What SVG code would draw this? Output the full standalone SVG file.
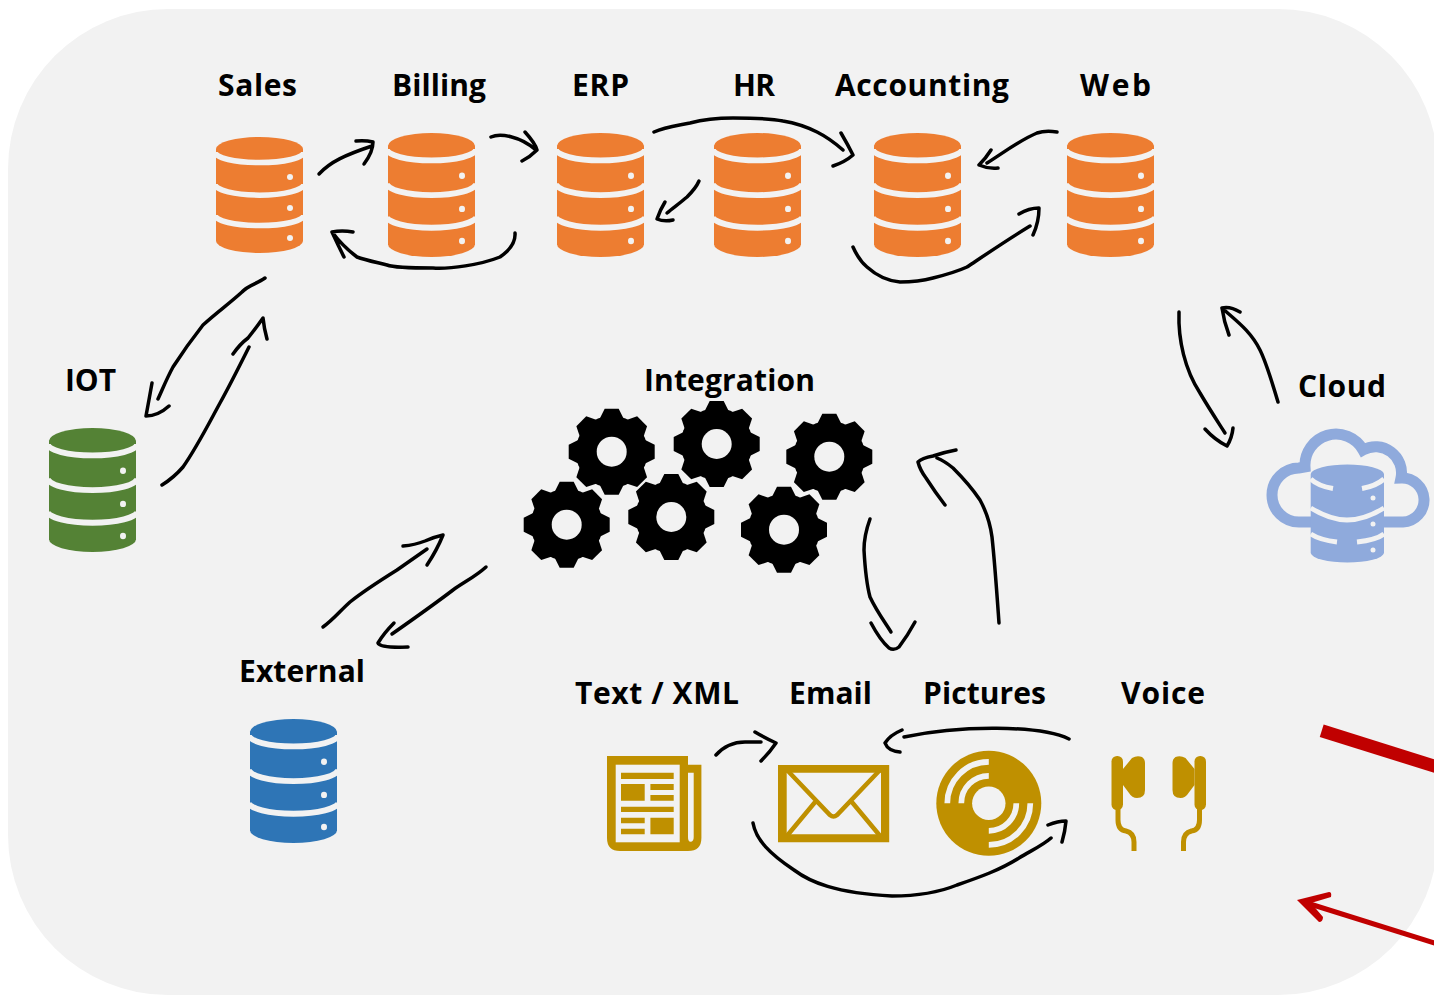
<svg xmlns="http://www.w3.org/2000/svg" width="1434" height="995" viewBox="0 0 1434 995">
<style>
.lb{font-family:"Open Sans","Noto Sans","Liberation Sans",sans-serif;font-weight:700;font-size:30px;fill:#000}
.ink{fill:none;stroke:#000;stroke-width:3.500;stroke-linecap:round;stroke-linejoin:round}
.bnd{fill:none;stroke:#f2f2f2;stroke-width:5.500}
.dot{fill:#f2f2f2}
.o{fill:#ED7D31}.g{fill:#548235}.b{fill:#2E75B6}
.gold{fill:#BF9000}.hole{fill:#f2f2f2}
.gl{fill:none;stroke:#BF9000;stroke-width:5}
</style>
<defs>
<g id="db">
<path d="M0,12A43.5,12 0 0 1 87,12V104A43.5,12 0 0 1 0,104Z"/>
<path class="bnd" d="M-1,15A44,10.500 0 0 0 88,15M-1,47A44,11 0 0 0 88,47M-1,78A44,10.500 0 0 0 88,78"/>
<circle class="dot" cx="74" cy="40" r="3"/><circle class="dot" cx="74" cy="71" r="3"/><circle class="dot" cx="74" cy="101" r="3"/>
</g>
<polygon id="tooth" points="-7,-43 7,-43 12,-33 -12,-33"/>
<g id="gear">
<circle r="36"/>
<use href="#tooth"/><use href="#tooth" transform="rotate(45)"/><use href="#tooth" transform="rotate(90)"/><use href="#tooth" transform="rotate(135)"/><use href="#tooth" transform="rotate(180)"/><use href="#tooth" transform="rotate(225)"/><use href="#tooth" transform="rotate(270)"/><use href="#tooth" transform="rotate(315)"/>
<circle class="hole" r="15"/>
</g>
<g id="bud">
<rect class="gold" x="1111.500" y="756" width="11.500" height="54" rx="5.500"/>
<path class="gold" d="M1123,769L1132,758Q1137,755 1142,757Q1145,759 1145,763V790Q1145,798 1137,798Q1132,798 1129,793L1123,785Z"/>
<path class="gl" d="M1118,808V820Q1118,830 1126,831Q1134,833 1134,842V851"/>
</g>
</defs>

<rect id="background" x="8" y="9" width="1430" height="986" rx="160" ry="160" fill="#f2f2f2"/>

<g id="sales" class="o"><use href="#db" transform="translate(216,137)"/><text class="lb" x="218" y="96" textLength="79">Sales</text></g>
<g id="billing" class="o"><use href="#db" transform="translate(388,133) scale(1,1.069)"/><text class="lb" x="392" y="96" textLength="94">Billing</text></g>
<g id="erp" class="o"><use href="#db" transform="translate(557,133) scale(1,1.069)"/><text class="lb" x="572" y="96" textLength="57">ERP</text></g>
<g id="hr" class="o"><use href="#db" transform="translate(714,133) scale(1,1.069)"/><text class="lb" x="733" y="96" textLength="42">HR</text></g>
<g id="accounting" class="o"><use href="#db" transform="translate(874,133) scale(1,1.069)"/><text class="lb" x="835" y="96" textLength="174">Accounting</text></g>
<g id="web" class="o"><use href="#db" transform="translate(1067,133) scale(1,1.069)"/><text class="lb" x="1080" y="96" textLength="71">Web</text></g>
<g id="iot" class="g"><use href="#db" transform="translate(49,428) scale(1,1.069)"/><text class="lb" x="65" y="391" textLength="51">IOT</text></g>
<g id="external" class="b"><use href="#db" transform="translate(250,719) scale(1,1.069)"/><text class="lb" x="239" y="682" textLength="126">External</text></g>

<g id="integration">
<text class="lb" x="644" y="391" textLength="171">Integration</text>
<use href="#gear" x="611.700" y="451.700"/><use href="#gear" x="716.700" y="444"/><use href="#gear" x="829.300" y="456.700"/>
<use href="#gear" x="566.700" y="524.700"/><use href="#gear" x="671.300" y="517"/><use href="#gear" x="784" y="529.700"/>
</g>

<g id="cloud">
<text class="lb" x="1298" y="397" textLength="88">Cloud</text>
<path fill="none" stroke="#8FAADC" stroke-width="11" d="M1312,522H1299A27,27 0 0 1 1299,468L1305,467A31,31 0 0 1 1363,450A26,26 0 0 1 1401,478A22,22 0 0 1 1403,522H1384"/>
<path fill="#8FAADC" d="M1302,517L1312,517V527H1310ZM1395,517L1384,517V527H1386Z"/>
<path fill="#8FAADC" d="M1310.700,474A36.700,10 0 0 1 1384,474V553A36.700,10 0 0 1 1310.700,553Z"/>
<path fill="none" stroke="#f2f2f2" stroke-width="5" d="M1310.700,479Q1318,486 1333,488.500M1362,488.500Q1376,486 1384,479M1310.700,508Q1330,520 1347,520Q1365,520 1384,508M1310.700,534Q1320,540 1337,542M1357,542Q1376,540 1384,534"/>
<circle class="dot" cx="1373" cy="498" r="2.500"/><circle class="dot" cx="1373" cy="524" r="2.500"/><circle class="dot" cx="1373" cy="550" r="2.500"/>
</g>

<g id="text-xml">
<text class="lb" x="575" y="704" textLength="164">Text / XML</text>
<path class="gold" d="M607,756H688V764.700H701.400V838Q701.400,851 688,851H620Q607,851 607,838Z"/>
<rect class="hole" x="615.700" y="764.700" width="64" height="77.600"/>
<path class="hole" d="M688,772.700H693.700V837Q693.700,841.700 690.500,841.700Q688,841.700 688,837Z"/>
<path class="gold" d="M621,772.700H673.700V779H621ZM621,784H644.700V800.700H621ZM650.400,784H673.700V790H650.400ZM650.400,795H673.700V800.700H650.400ZM621,806.700H673.700V812H621ZM621,817.700H644.700V823.300H621ZM621,828.700H644.700V834.300H621ZM650.400,817.700H673.700V834.300H650.400Z"/>
</g>

<g id="email">
<text class="lb" x="789" y="704" textLength="83">Email</text>
<path class="gold" fill-rule="evenodd" d="M778,765H889.200V842.300H778ZM786.700,772.700V834.300H881V772.700Z"/>
<path fill="none" stroke="#BF9000" stroke-width="4.500" d="M787,770L830,815Q833.500,818 837,815L880,770M786,837L816,801M881,837L851,801"/>
</g>

<g id="pictures">
<text class="lb" x="923" y="704" textLength="123">Pictures</text>
<circle class="gold" cx="988.800" cy="803.300" r="52.500"/>
<circle class="hole" cx="988.800" cy="803.300" r="16.700"/>
<path fill="none" stroke="#f2f2f2" stroke-width="5.700" d="M947.300,803.300A41.500,41.500 0 0 1 988.800,761.800M961.300,803.300A27.500,27.500 0 0 1 988.800,775.800M1030.300,803.300A41.500,41.500 0 0 1 988.800,844.800M1016.300,803.300A27.500,27.500 0 0 1 988.800,830.800"/>
</g>

<g id="voice">
<text class="lb" x="1121" y="704" textLength="84">Voice</text>
<use href="#bud"/>
<use href="#bud" transform="matrix(-1,0,0,1,2317.500,0)"/>
</g>

<g id="connectors" class="ink">
<path d="M319,174C330,162 345,155 372,146M356,141Q365,140 373,142Q373,152 364,164"/>
<path d="M491,137C500,133 520,136 536,150M525,132Q535,143 537,150Q530,157 522,161"/>
<path d="M515,233Q516,246 500,257C480,265 450,269 433,268C415,268 395,268 387,265C375,262 365,260 357,257C345,248 338,240 332,232M353,232Q342,230 332,232Q338,245 344,257"/>
<path d="M654,132C665,127 675,126 690,123C705,119 720,118 733,118C750,118 770,118 783,121C795,123 805,126 817,132C825,136 835,143 843,150M841,133Q848,145 853,155Q845,162 833,166"/>
<path d="M699,181C696,188 692,192 687,197C680,203 673,208 667,213M665,202Q660,210 657,219Q664,222 673,220"/>
<path d="M1057,132C1050,131 1043,131 1037,133C1020,140 1003,153 987,163M991,150Q986,158 979,165Q988,169 998,168"/>
<path d="M853,247C857,256 861,262 867,267C877,276 888,281 900,282C912,282 922,281 933,278C945,275 956,272 967,267C985,255 1007,240 1030,226M1019,214Q1029,208 1039,208Q1039,222 1033,235"/>
<path d="M265,278C257,284 248,285 242,292C230,303 216,313 203,325C192,339 182,353 173,367C167,378 163,388 158,399M152,383Q149,400 146,416Q158,416 169,406"/>
<path d="M162,485C170,480 177,474 183,467C197,447 208,425 220,403C230,385 240,365 249,347M233,354Q240,344 248,338Q256,328 263,318Q264,328 267,339"/>
<path d="M323,627C333,620 341,610 350,602C365,590 381,580 397,570C407,563 417,556 427,549M403,546Q415,545 425,541Q434,537 443,535Q437,550 427,565"/>
<path d="M486,567C475,577 464,582 453,590C432,606 412,620 392,634M394,623Q384,633 378,643Q380,648 408,647"/>
<path d="M870,519C866,530 864,540 864,550C865,568 866,582 870,597C876,610 884,621 891,632M871,623Q880,640 889,648Q894,651 899,647Q908,635 915,622"/>
<path d="M999,623C997,595 995,565 992,537C990,522 986,511 980,500C972,488 963,478 953,468C947,463 942,460 937,458M956,450Q945,452 933,456Q922,458 918,462Q920,470 926,478Q935,492 945,505"/>
<path d="M716,755C725,745 735,742 745,742L761,742M755,732Q765,738 776,743Q770,752 761,761"/>
<path d="M1069,739C1040,725 960,725 904,737M902,730Q890,735 885,743Q888,751 900,752"/>
<path d="M753,823C756,840 770,854 794,870C810,882 835,893 892,896C915,896 940,892 957,885C980,877 1000,870 1019,858C1030,851 1042,846 1051,838M1048,825Q1058,821 1066,821Q1065,832 1062,842"/>
<path d="M1179,312C1178,340 1185,370 1200,393C1210,410 1218,422 1225,433M1205,429Q1215,440 1227,446Q1232,438 1233,428"/>
<path d="M1278,402C1270,375 1265,360 1260,350C1250,330 1235,320 1222,308M1240,312Q1230,306 1222,308Q1224,322 1229,335"/>
</g>

<g id="red-lines">
<path fill="none" stroke="#C00000" stroke-width="13" d="M1321.700,730.700L1450,771"/>
<path fill="none" stroke="#C00000" stroke-width="5" d="M1450,948L1310,904"/>
<path fill="#C00000" d="M1297,900L1329,892Q1332,892 1331,897L1311,903L1323,917Q1323,922 1319,922Z"/>
</g>
</svg>
